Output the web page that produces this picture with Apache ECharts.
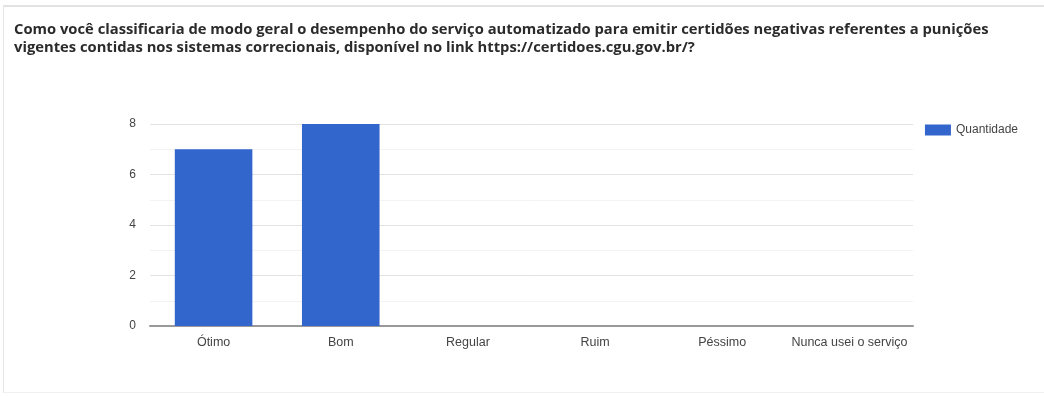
<!DOCTYPE html>
<html>
<head>
<meta charset="utf-8">
<script src="https://cdn.jsdelivr.net/npm/echarts@6/dist/echarts.min.js"></script>
<style>
  html, body { margin: 0; padding: 0; background: #fff; }
  #frame { position: absolute; left: 3px; top: 5px; width: 1041px; height: 388px;
           border-top: 2px solid #e2e2e2; border-left: 1px solid #e6e6e6; border-bottom: 1px solid #f0f0f0; box-sizing: border-box; }
  #chart { position: absolute; left: 0; top: 0; width: 1044px; height: 396px; }
</style>
</head>
<body>
<div id="frame"></div>
<div id="chart"></div>
<script>
const titleText = 'Como você classificaria de modo geral o desempenho do serviço automatizado para emitir certidões negativas referentes a punições\nvigentes contidas nos sistemas correcionais, disponível no link https://certidoes.cgu.gov.br/?';
const categories = ['Ótimo', 'Bom', 'Regular', 'Ruim', 'Péssimo', 'Nunca usei o serviço'];
const seriesName = 'Quantidade';
const values = [7, 8, 0, 0, 0, 0];

const chart = echarts.init(document.getElementById('chart'), null, { renderer: 'canvas' });
chart.setOption({
  animation: false,
  backgroundColor: 'transparent',
  title: {
    text: titleText,
    left: 14,
    top: 21,
    padding: 0,
    textStyle: {
      fontFamily: 'Open Sans',
      fontWeight: 'bold',
      fontSize: 14.75,
      lineHeight: 18,
      color: '#2b2b2b'
    }
  },
  legend: {
    data: [seriesName],
    right: 21,
    top: 119,
    itemWidth: 26,
    itemHeight: 11,
    itemGap: 6,
    icon: 'rect',
    textStyle: { fontFamily: 'Arial', fontSize: 12, color: '#444' }
  },
  grid: { left: 150, right: 131, top: 124, bottom: 70, containLabel: false },
  xAxis: {
    type: 'category',
    data: categories,
    axisTick: { show: false },
    axisLine: { lineStyle: { color: '#999', width: 2 } },
    axisLabel: { interval: 0, fontFamily: 'Arial', fontSize: 12.5, color: '#444', margin: 10 }
  },
  yAxis: {
    type: 'value',
    min: 0,
    max: 8,
    interval: 2,
    axisLine: { show: false },
    axisTick: { show: false },
    axisLabel: { fontFamily: 'Arial', fontSize: 12, color: '#444', margin: 14 },
    splitLine: { lineStyle: { color: '#e3e3e3' } },
    minorTick: { show: false, splitNumber: 2 },
    minorSplitLine: { show: true, lineStyle: { color: '#f3f3f3' } }
  },
  series: [{
    name: seriesName,
    type: 'bar',
    data: values,
    barWidth: '61%',
    itemStyle: { color: '#3366cc' }
  }]
});
</script>
</body>
</html>
